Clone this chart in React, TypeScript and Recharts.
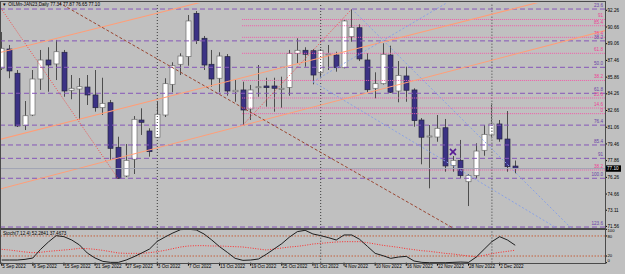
import React from "react";
import {
  ComposedChart,
  Bar,
  Line,
  Scatter,
  XAxis,
  YAxis,
  ReferenceLine,
} from "recharts";

// trading days shown on the chart (one bar each)
const dates = [
  "5 Sep 2022", "6 Sep 2022", "7 Sep 2022", "8 Sep 2022", "9 Sep 2022",
  "12 Sep 2022", "13 Sep 2022", "14 Sep 2022", "15 Sep 2022", "16 Sep 2022",
  "19 Sep 2022", "20 Sep 2022", "21 Sep 2022", "22 Sep 2022", "23 Sep 2022",
  "26 Sep 2022", "27 Sep 2022", "28 Sep 2022", "29 Sep 2022", "30 Sep 2022",
  "3 Oct 2022", "4 Oct 2022", "5 Oct 2022", "6 Oct 2022", "7 Oct 2022",
  "10 Oct 2022", "11 Oct 2022", "12 Oct 2022", "13 Oct 2022", "14 Oct 2022",
  "17 Oct 2022", "18 Oct 2022", "19 Oct 2022", "20 Oct 2022", "21 Oct 2022",
  "24 Oct 2022", "25 Oct 2022", "26 Oct 2022", "27 Oct 2022", "28 Oct 2022",
  "31 Oct 2022", "1 Nov 2022", "2 Nov 2022", "3 Nov 2022", "4 Nov 2022",
  "7 Nov 2022", "8 Nov 2022", "9 Nov 2022", "10 Nov 2022", "11 Nov 2022",
  "14 Nov 2022", "15 Nov 2022", "16 Nov 2022", "17 Nov 2022", "18 Nov 2022",
  "21 Nov 2022", "22 Nov 2022", "23 Nov 2022", "24 Nov 2022", "25 Nov 2022",
  "28 Nov 2022", "29 Nov 2022", "30 Nov 2022", "1 Dec 2022", "2 Dec 2022",
  "5 Dec 2022", "6 Dec 2022",
];

const opens = [
  86.7, 88.55, 86.23, 81.21, 82.23, 85.68, 87.5, 87.12, 88.24, 84.6,
  84.72, 84.91, 84.15, 82.93, 83.41, 79.14, 76.39, 77.99, 81.75, 80.7,
  80.1, 82.23, 85.17, 87.09, 87.82, 91.97, 89.58, 87.09, 85.75, 87.82,
  84.46, 84.63, 82.81, 84.85, 85.01, 85.01, 84.69, 84.88, 88.14, 88.43,
  88.39, 86.32, 88.05, 87.98, 86.76, 89.73, 90.59, 87.5, 84.79, 85.23,
  87.98, 84.53, 85.97, 84.63, 81.75, 80.15, 80.12, 81.01, 77.41, 77.89,
  75.84, 76.42, 78.85, 80.32, 81.37, 79.93, 77.34,
];
const highs = [
  90.18, 88.94, 86.54, 83.57, 86.54, 88.46, 88.72, 89.42, 88.46, 86.06,
  85.77, 86.06, 86.54, 85.8, 83.67, 80.15, 79.45, 82.13, 82.87, 80.96,
  83.5, 85.75, 87.28, 88.14, 91.81, 92.19, 89.8, 88.46, 88.24, 88.07,
  85.58, 85.42, 85.11, 87.02, 85.8, 85.8, 85.9, 88.46, 89.58, 88.72,
  88.55, 88.55, 88.94, 88.29, 91.33, 92.38, 90.92, 88.14, 86.32, 89.1,
  88.87, 87.4, 86.86, 84.79, 81.94, 81.27, 82.23, 81.85, 78.3, 79.84,
  76.58, 79.52, 81.27, 83.35, 81.75, 82.61, 77.87,
];
const lows = [
  86.54, 85.75, 81.08, 80.79, 82.13, 84.63, 84.46, 85.58, 83.98, 83.74,
  81.75, 83.19, 82.55, 82.23, 77.92, 76.1, 76.29, 76.58, 80.32, 78.24,
  80.03, 82.04, 84.41, 86.06, 86.95, 89.03, 86.54, 84.94, 84.41, 84.08,
  83.5, 81.27, 81.75, 83.98, 83.03, 82.55, 82.93, 84.08, 87.18, 86.86,
  85.17, 85.75, 86.54, 86.38, 86.7, 89.25, 87.4, 84.41, 83.83, 85.15,
  84.34, 83.45, 83.5, 81.11, 77.51, 75.21, 79.67, 76.8, 76.8, 76.17,
  73.51, 76.17, 78.33, 80.0, 79.67, 76.8, 76.65,
];
const closes = [
  88.62, 86.45, 81.18, 82.16, 85.68, 87.5, 87.02, 88.29, 84.53, 84.79,
  84.94, 84.15, 82.93, 83.35, 79.04, 76.17, 77.89, 81.82, 81.53, 78.72,
  82.3, 85.23, 86.95, 87.88, 91.24, 89.35, 87.02, 85.68, 87.88, 84.53,
  84.6, 82.71, 84.63, 84.94, 84.85, 84.79, 84.79, 88.14, 88.43, 88.05,
  86.06, 88.43, 88.08, 86.76, 91.24, 90.63, 87.6, 84.65, 85.23, 88.05,
  84.41, 86.03, 84.6, 81.69, 80.1, 80.22, 80.96, 77.35, 77.89, 76.42,
  76.42, 78.78, 80.38, 81.37, 79.93, 77.28, 77.1,
];

// Stochastic (7,12,4): main line and signal line
const stochK = [
  8, 8, 8, 10, 14, 40, 62, 81, 78, 68,
  53, 29, 14, 4, 1, 1, 8, 18, 29, 41,
  64, 77, 89, 99, 100, 98, 86, 68, 48, 31,
  13, 7, 8, 11, 25, 41, 57, 77, 93, 97,
  86, 81, 75, 68, 83, 83, 70, 49, 28, 21,
  13, 17, 19, 5, 1, 0, 0, 0, 1, 2,
  1, 17, 40, 63, 78, 68, 52.28,
];
const stochD = [
  40, 38, 35, 32, 30, 31, 34, 36, 38, 40,
  43, 42, 40, 37, 33, 29, 28, 28, 28, 30,
  33, 37, 42, 47, 50, 51, 51, 50, 50, 49,
  48, 47, 44, 41, 38, 41, 44, 47, 49, 52,
  56, 58, 60, 62, 63, 63, 63, 60, 56, 52,
  49, 46, 42, 39, 36, 34, 31, 28, 26, 23,
  20, 18, 22, 27, 31, 34, 37.47,
];

const priceTicks = [92.26, 90.66, 89.06, 87.46, 85.86, 84.26, 82.66, 81.06, 79.46, 77.86, 76.26, 74.66, 73.11, 71.56];
const dateTicks = [0, 4, 8, 12, 16, 20, 24, 28, 32, 36, 40, 44, 48, 52, 56, 60, 64];
const stochTicks = [0, 20, 80, 100];

// month separators (bar index)
const monthStarts = [20, 41, 63];

// fibonacci levels
const purpleLevels = [92.38, 89.33, 86.8, 84.31, 81.26, 79.36, 78.08, 76.17, 71.5];
const purpleLabels = ["23.6", "38.2", "50.0", "61.8", "76.4", "85.4", "91", "100.0", "123.6"];
const pinkLevels = [91.38, 90.78, 89.67, 88.14, 85.54, 83.86, 82.9, 82.36, 76.96];
const pinkLabels = ["91", "85.4", "76.4", "61.8", "38.2", "23.6", "14.6", "0", "38.2"];
const pinkStart = 30.9;

// trend lines, in (bar index, price)
const orangeLines = [
  [{ x: -1, y: 88.07 }, { x: 30, y: 93.85 }],
  [{ x: -1, y: 79.75 }, { x: 75, y: 94.16 }],
  [{ x: -1, y: 74.99 }, { x: 80, y: 90.79 }],
];
const brownLine = [{ x: 6.21, y: 93.48 }, { x: 60.2, y: 70.47 }];
const redLines = [
  [{ x: -0.86, y: 93.28 }, { x: 15, y: 76.1 }],
  [{ x: 31, y: 81.27 }, { x: 45, y: 92.38 }],
];
const blueLines = [
  [{ x: 40, y: 85.42 }, { x: 60, y: 94.2 }],
  [{ x: 45, y: 92.38 }, { x: 75, y: 70.05 }],
  [{ x: 40, y: 85.42 }, { x: 73, y: 70.65 }],
];
const markerPoints = [{ i: 58, p: 78.7 }];

const lastPrice = 77.1;

const X_DOMAIN: [number, number] = [-0.09, 77.54];
const PRICE_DOMAIN: [number, number] = [71.407, 92.959];
const FONT = "'Liberation Sans', Arial, sans-serif";

const candles = dates.map((d, i) => ({
  i,
  range: [lows[i], highs[i]],
  open: opens[i],
  high: highs[i],
  low: lows[i],
  close: closes[i],
}));

const stochData = dates.map((d, i) => ({ i, k: stochK[i], d: stochD[i] }));

function Candle(props: any) {
  const { x, y, width, height, payload } = props;
  if (!payload) return null;
  const { open, close, high, low } = payload;
  const cx = Math.round(x + width / 2) + 0.5;
  const top = Math.min(y, y + height);
  const h = Math.abs(height);
  const span = high - low || 1;
  const toY = (v: number) => top + ((high - v) / span) * h;
  const bodyTop = toY(Math.max(open, close));
  const bodyBottom = toY(Math.min(open, close));
  const bull = close > open;
  return (
    <g>
      <line x1={cx} x2={cx} y1={top} y2={top + h} stroke="#4d4d4d" strokeWidth={1} />
      <rect
        x={cx - 2.5}
        y={bodyTop}
        width={5}
        height={Math.max(bodyBottom - bodyTop, 1)}
        fill={bull ? "#ffffff" : "#3b3284"}
        stroke={bull ? "#6b6b6b" : "#26263f"}
        strokeWidth={0.7}
      />
    </g>
  );
}

function Cross(props: any) {
  const { cx, cy } = props;
  return (
    <g stroke="#5a1e96" strokeWidth={1.6}>
      <line x1={cx - 3} y1={cy - 3} x2={cx + 3} y2={cy + 3} />
      <line x1={cx - 3} y1={cy + 3} x2={cx + 3} y2={cy - 3} />
    </g>
  );
}

const PriceTick = ({ x, y, payload }: any) => (
  <text x={x + 0.5} y={y} dy={1.6} fontSize={4.6} fill="#000" textAnchor="start">
    {Number(payload.value).toFixed(2)}
  </text>
);

// keep the labels inside the small panel and apart from each other
const stochShift: Record<number, number> = { 100: 1.6, 80: 0.6, 20: -0.9, 0: -2.4 };
const StochTick = ({ x, y, payload }: any) => (
  <text x={x + 0.5} y={y + (stochShift[payload.value] || 0)} dy={1.5} fontSize={4.2} fill="#000" textAnchor="start">
    {payload.value}
  </text>
);

const DateTick = ({ x, y, payload }: any) => (
  <text x={x + 0.5} y={y} dy={2.6} fontSize={4.6} fill="#000" textAnchor="start">
    {dates[payload.value]}
  </text>
);

const lastPriceLabel = (props: any) => {
  const vb = props.viewBox;
  const right = vb.x + vb.width;
  return (
    <g>
      <rect x={right + 1} y={vb.y - 3.2} width={15} height={6.4} fill="#000" />
      <text x={right + 2} y={vb.y} dy={1.6} fontSize={4.6} fill="#fff">
        {lastPrice.toFixed(2)}
      </text>
    </g>
  );
};

export default function App() {
  return (
    <div
      style={{
        position: "absolute",
        left: 0,
        top: 0,
        width: 625,
        height: 274,
        background: "#c0c0c0",
        overflow: "hidden",
        fontFamily: FONT,
      }}
    >
      {/* price panel */}
      <div style={{ position: "absolute", left: 0, top: 0 }}>
        <ComposedChart width={625} height={228} data={candles} margin={{ top: 3, right: 0, bottom: 0, left: 1 }}>
          <XAxis dataKey="i" type="number" domain={X_DOMAIN} allowDataOverflow hide />
          <YAxis
            orientation="right"
            type="number"
            domain={PRICE_DOMAIN}
            allowDataOverflow
            ticks={priceTicks}
            interval={0}
            width={20}
            axisLine={false}
            tickLine={{ stroke: "#000" }}
            tickSize={2}
            tickMargin={0}
            tick={<PriceTick />}
          />

          {monthStarts.map((m, k) => (
            <ReferenceLine
              key={"m" + m}
              x={m}
              stroke={k === 2 ? "#8a8a8a" : "#3a3a3a"}
              strokeWidth={k === 2 ? 1.6 : 1}
              strokeDasharray={k === 2 ? "1.5 1.5" : "1 2"}
            />
          ))}

          {purpleLevels.map((v, k) => (
            <ReferenceLine
              key={"pu" + k}
              y={v}
              stroke="#8556b8"
              strokeDasharray="5 3"
              label={{ value: purpleLabels[k], position: "insideBottomRight", offset: 2, fill: "#6a3fa6", fontSize: 4.6 }}
            />
          ))}

          {pinkLevels.map((v, k) => (
            <ReferenceLine
              key={"pi" + k}
              segment={[{ x: pinkStart, y: v }, { x: X_DOMAIN[1], y: v }]}
              stroke="#f25aa8"
              strokeDasharray="1 1"
              ifOverflow="hidden"
              label={{ value: pinkLabels[k], position: "insideBottomRight", offset: 2, fill: "#ee3d96", fontSize: 4.6 }}
            />
          ))}

          {orangeLines.map((seg, k) => (
            <ReferenceLine key={"or" + k} segment={seg} stroke="#ff9e78" strokeWidth={1.1} ifOverflow="hidden" />
          ))}
          <ReferenceLine segment={brownLine} stroke="#9a4632" strokeDasharray="3 2" ifOverflow="hidden" />
          {redLines.map((seg, k) => (
            <ReferenceLine key={"rd" + k} segment={seg} stroke="#f05050" strokeDasharray="1 1.5" ifOverflow="hidden" />
          ))}
          {blueLines.map((seg, k) => (
            <ReferenceLine key={"bl" + k} segment={seg} stroke="#8aa2e6" strokeDasharray="2 2" ifOverflow="hidden" />
          ))}

          <ReferenceLine y={lastPrice} stroke="#a0a4b4" label={lastPriceLabel} />

          <Bar dataKey="range" barSize={5} shape={<Candle />} isAnimationActive={false} />
          <Scatter data={markerPoints} dataKey="p" shape={<Cross />} isAnimationActive={false} />
        </ComposedChart>
      </div>

      {/* stochastic panel */}
      <div style={{ position: "absolute", left: 0, top: 226 }}>
        <ComposedChart width={625} height={48} data={stochData} margin={{ top: 3.3, right: 0, bottom: 0, left: 1 }}>
          <XAxis
            dataKey="i"
            type="number"
            domain={X_DOMAIN}
            allowDataOverflow
            ticks={dateTicks}
            interval={0}
            height={11.3}
            axisLine={false}
            tickLine={{ stroke: "#000" }}
            tickSize={3}
            tickMargin={0}
            tick={<DateTick />}
          />
          <YAxis
            orientation="right"
            type="number"
            domain={[0, 100]}
            ticks={stochTicks}
            interval={0}
            width={20}
            axisLine={false}
            tickLine={{ stroke: "#000" }}
            tickSize={2}
            tickMargin={0}
            tick={<StochTick />}
          />
          {monthStarts.map((m, k) => (
            <ReferenceLine
              key={"sm" + m}
              x={m}
              stroke={k === 2 ? "#8a8a8a" : "#3a3a3a"}
              strokeWidth={k === 2 ? 1.6 : 1}
              strokeDasharray={k === 2 ? "1.5 1.5" : "1 2"}
            />
          ))}
          <ReferenceLine y={80} stroke="#c4603c" strokeDasharray="1.5 1.5" />
          <ReferenceLine y={20} stroke="#c4603c" strokeDasharray="1.5 1.5" />
          <Line type="linear" dataKey="d" stroke="#ff2a2a" strokeWidth={1} strokeDasharray="1 1.5" dot={false} isAnimationActive={false} />
          <Line type="linear" dataKey="k" stroke="#1e1e1e" strokeWidth={1} dot={false} isAnimationActive={false} />
        </ComposedChart>
      </div>

      {/* panel frames */}
      <div style={{ position: "absolute", left: 0, top: 1, width: 606, height: 228, border: "1px solid #4a4a4a", boxSizing: "border-box", pointerEvents: "none" }} />
      <div style={{ position: "absolute", left: 0, top: 229, width: 606, height: 34.5, border: "1px solid #4a4a4a", boxSizing: "border-box", pointerEvents: "none" }} />

      {/* captions */}
      <svg width={625} height={274} style={{ position: "absolute", left: 0, top: 0, pointerEvents: "none" }}>
        <text x={2} y={6.3} fontSize={4.6} fill="#000">▼</text>
        <text x={8.3} y={6.3} fontSize={4.6} fill="#000">
          OILMn-JAN23,Daily  77.34 77.87 76.65 77.10
        </text>
        <text x={3} y={235} fontSize={4.6} fill="#000">
          Stoch(7,12,4) 52.2841 37.4673
        </text>
      </svg>
    </div>
  );
}
